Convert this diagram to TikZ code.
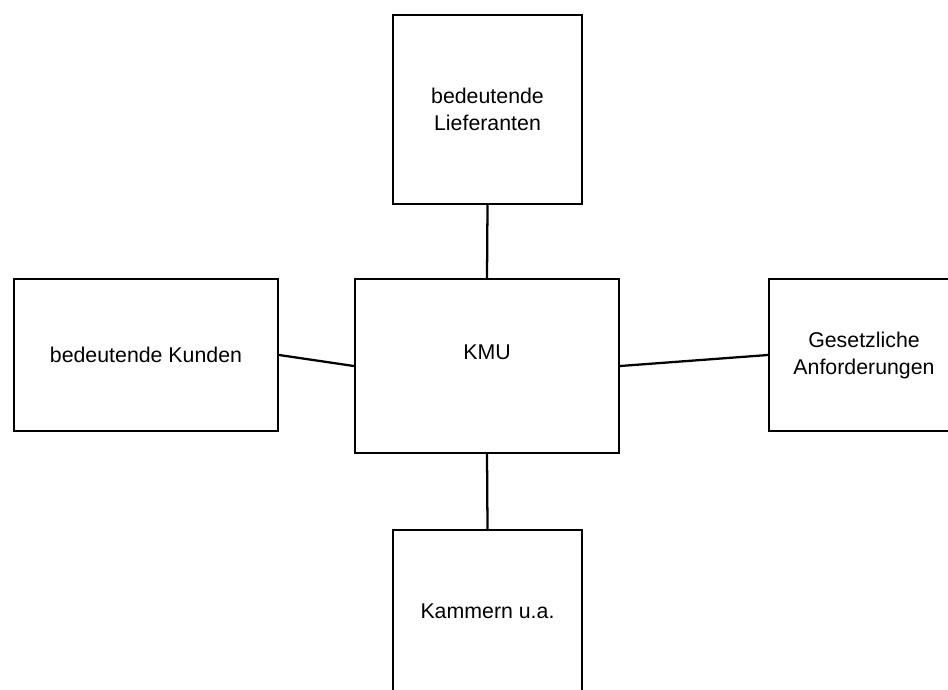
\documentclass[tikz,border=0pt]{standalone}
\usepackage{fontspec}
\setmainfont{Liberation Sans}
\newcommand\boxfont{\fontsize{16}{20.25}\selectfont}
\tikzset{
  box/.style={draw, line width=1.7pt, inner sep=0pt, align=center, font=\boxfont},
  link/.style={line width=1.7pt}
}
\begin{document}
\begin{tikzpicture}[x=0.75pt, y=-0.75pt]
  \useasboundingbox (0,0) rectangle (948,689);
  \clip (0,0) rectangle (948,689);
  \node[box, minimum width=189*0.75pt, minimum height=189*0.75pt] (T) at (487.5,109.5) {bedeutende\\Lieferanten};
  \node[box, minimum width=264*0.75pt, minimum height=174*0.75pt, text height=0pt, text depth=10pt] (K) at (487,366) {KMU};
  \node[box, minimum width=264*0.75pt, minimum height=152*0.75pt] (L) at (146,355) {bedeutende Kunden};
  \node[box, minimum width=190*0.75pt, minimum height=152*0.75pt] (R) at (864,355) {Gesetzliche\\Anforderungen};
  \node[box, minimum width=189*0.75pt, minimum height=162*0.75pt] (B) at (487.5,611) {Kammern u.a.};
  \draw[link] (T.south) -- (K.north);
  \draw[link] (L.east) -- (K.west);
  \draw[link] (K.east) -- (R.west);
  \draw[link] (K.south) -- (B.north);
\end{tikzpicture}
\end{document}
